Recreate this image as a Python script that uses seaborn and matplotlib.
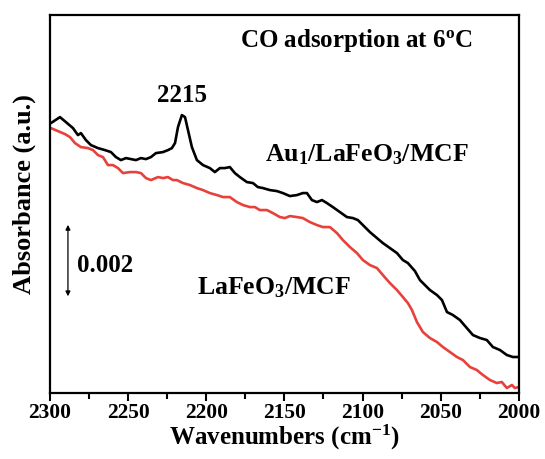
import matplotlib
matplotlib.use("Agg")
import matplotlib.pyplot as plt
from matplotlib.ticker import MultipleLocator, NullLocator
import seaborn as sns
import pandas as pd

# ---- data (absorbance, arbitrary units; 76 a.u. == 0.002) ----
wn_au = [2299.4, 2293.6, 2289.8, 2285.3, 2282.1, 2280.2, 2277.0, 2273.8, 2269.3, 2264.8,
         2261.0, 2257.8, 2254.6, 2251.4, 2248.2, 2245.0, 2241.8, 2238.6, 2235.4, 2232.2,
         2227.7, 2224.5, 2222.0, 2220.0, 2218.1, 2215.6, 2213.6, 2211.7, 2209.2, 2206.0,
         2202.1, 2197.7, 2194.5, 2191.3, 2188.1, 2184.9, 2181.7, 2178.5, 2174.0, 2170.1,
         2167.0, 2163.7, 2159.3, 2154.8, 2151.0, 2146.5, 2142.0, 2138.2, 2135.6, 2132.4,
         2129.2, 2126.0, 2122.8, 2119.0, 2114.5, 2110.0, 2106.2, 2103.0, 2099.8, 2095.3,
         2090.8, 2087.0, 2082.5, 2078.0, 2074.2, 2071.0, 2066.5, 2063.3, 2060.1, 2056.9,
         2052.4, 2049.2, 2046.0, 2042.2, 2037.7, 2033.3, 2029.4, 2024.9, 2020.5, 2016.6,
         2012.1, 2007.7, 2003.8, 2000.0]
abs_au = [270, 276, 271, 265, 258, 260, 253, 248, 245, 243,
          241, 236, 233, 235, 234, 233, 235, 234, 236, 240,
          241, 243, 245, 250, 266, 278, 276, 263, 246, 233,
          228, 225, 221, 225, 225, 226, 220, 216, 211, 210,
          206, 205, 203, 202, 200, 197, 198, 200, 200, 193,
          191, 193, 190, 186, 181, 176, 175, 173, 168, 161,
          155, 150, 145, 140, 133, 130, 122, 113, 108, 103,
          98, 93, 81, 78, 73, 65, 58, 55, 53, 46,
          43, 38, 36, 36]

wn_lfo = [2299.4, 2294.9, 2290.4, 2287.2, 2284.0, 2280.2, 2275.7, 2272.5, 2269.3, 2266.1,
          2262.9, 2259.7, 2256.5, 2253.3, 2248.8, 2245.0, 2241.8, 2238.6, 2235.4, 2230.9,
          2227.7, 2224.5, 2221.3, 2218.8, 2214.9, 2210.4, 2206.0, 2202.1, 2197.7, 2193.2,
          2189.3, 2184.9, 2180.4, 2176.5, 2172.1, 2168.9, 2165.7, 2161.2, 2157.4, 2152.9,
          2149.7, 2146.5, 2142.0, 2138.2, 2133.7, 2129.2, 2125.4, 2120.9, 2116.4, 2112.6,
          2108.1, 2103.6, 2099.8, 2095.3, 2090.8, 2087.0, 2082.5, 2078.0, 2074.2, 2071.0,
          2068.4, 2065.2, 2061.4, 2056.9, 2052.4, 2048.6, 2044.1, 2039.6, 2035.8, 2031.3,
          2026.9, 2023.0, 2018.5, 2014.1, 2010.9, 2007.7, 2004.4, 2002.6, 2000.0]
abs_lfo = [265, 262, 259, 256, 250, 246, 245, 243, 238, 236,
           228, 228, 225, 220, 221, 221, 220, 215, 213, 216,
           215, 216, 213, 213, 210, 208, 205, 203, 200, 198,
           196, 196, 191, 188, 186, 186, 183, 183, 180, 176,
           175, 177, 176, 175, 171, 168, 166, 166, 160, 153,
           146, 140, 133, 128, 125, 118, 110, 103, 96, 90,
           83, 71, 61, 55, 51, 46, 41, 36, 33, 26,
           23, 18, 13, 10, 11, 5, 8, 5, 6]

series_labels = ["Au$_\\mathbf{1}$/LaFeO$_\\mathbf{3}$/MCF", "LaFeO$_\\mathbf{3}$/MCF"]
xticks = [2300, 2250, 2200, 2150, 2100, 2050, 2000]
scale_bar_value = "0.002"
peak_label = "2215"
title_text = "CO adsorption at 6$^\\mathbf{o}$C"

# ---- style ----
sns.set_theme(style="white")
plt.rcParams["font.family"] = ["Liberation Serif", "DejaVu Serif"]
plt.rcParams["font.weight"] = "bold"
plt.rcParams["text.color"] = "black"
plt.rcParams["axes.labelcolor"] = "black"
plt.rcParams["xtick.color"] = "black"
plt.rcParams["ytick.color"] = "black"
plt.rcParams["mathtext.fontset"] = "custom"
plt.rcParams["mathtext.rm"] = "Liberation Serif:bold"
plt.rcParams["mathtext.bf"] = "Liberation Serif:bold"
plt.rcParams["mathtext.it"] = "Liberation Serif:bold"
plt.rcParams["mathtext.default"] = "bf"

df_au = pd.DataFrame({"wn": wn_au, "A": abs_au})
df_lfo = pd.DataFrame({"wn": wn_lfo, "A": abs_lfo})

fig, ax = plt.subplots(figsize=(5.45, 4.59), dpi=100)
fig.subplots_adjust(left=0.0917, right=0.952, top=0.967, bottom=0.1438)

sns.lineplot(data=df_lfo, x="wn", y="A", color="#e8413c", linewidth=1.9, ax=ax, sort=False)
sns.lineplot(data=df_au, x="wn", y="A", color="black", linewidth=1.9, ax=ax, sort=False)

ax.set_xlim(2300, 2000)
ax.set_ylim(0, 378)
ax.set_xticks(xticks)
ax.set_xticklabels([str(t) for t in xticks], fontsize=15.5, fontweight="bold", color="black")
ax.xaxis.set_minor_locator(MultipleLocator(25))
ax.yaxis.set_major_locator(NullLocator())
ax.tick_params(axis="x", which="major", direction="out", length=6, width=1.5,
               bottom=True, pad=1, colors="black")
ax.tick_params(axis="x", which="minor", direction="out", length=4, width=1.5, bottom=True)
for s in ax.spines.values():
    s.set_linewidth(1.6)
    s.set_color("black")

ax.set_xlabel("Wavenumbers (cm$^{\\mathbf{-1}}$)", fontsize=18, fontweight="bold", color="black")
ax.set_ylabel("Absorbance (a.u.)", fontsize=19, fontweight="bold", color="black")
ax.xaxis.set_label_coords(0.5, -0.078)
ax.yaxis.set_label_coords(-0.03, 0.526)

# annotations
ax.text(2178.5, 353, title_text, fontsize=18, fontweight="bold", va="center", ha="left", color="black")
ax.text(2215.5, 298, peak_label, fontsize=18, fontweight="bold", va="center", ha="center", color="black")
ax.text(2162.5, 238, series_labels[0], fontsize=18.5, fontweight="bold", va="center", ha="left", color="black")
ax.text(2206, 105, series_labels[1], fontsize=18.5, fontweight="bold", va="center", ha="left", color="black")

# scale bar
ax.annotate("", xy=(2288.5, 94), xytext=(2288.5, 171),
            arrowprops=dict(arrowstyle="<|-|>", color="black", lw=0.9,
                            mutation_scale=7))
ax.text(2283, 128, scale_bar_value, fontsize=18, fontweight="bold", va="center", ha="left", color="black")

fig.savefig("out.png", dpi=100)
